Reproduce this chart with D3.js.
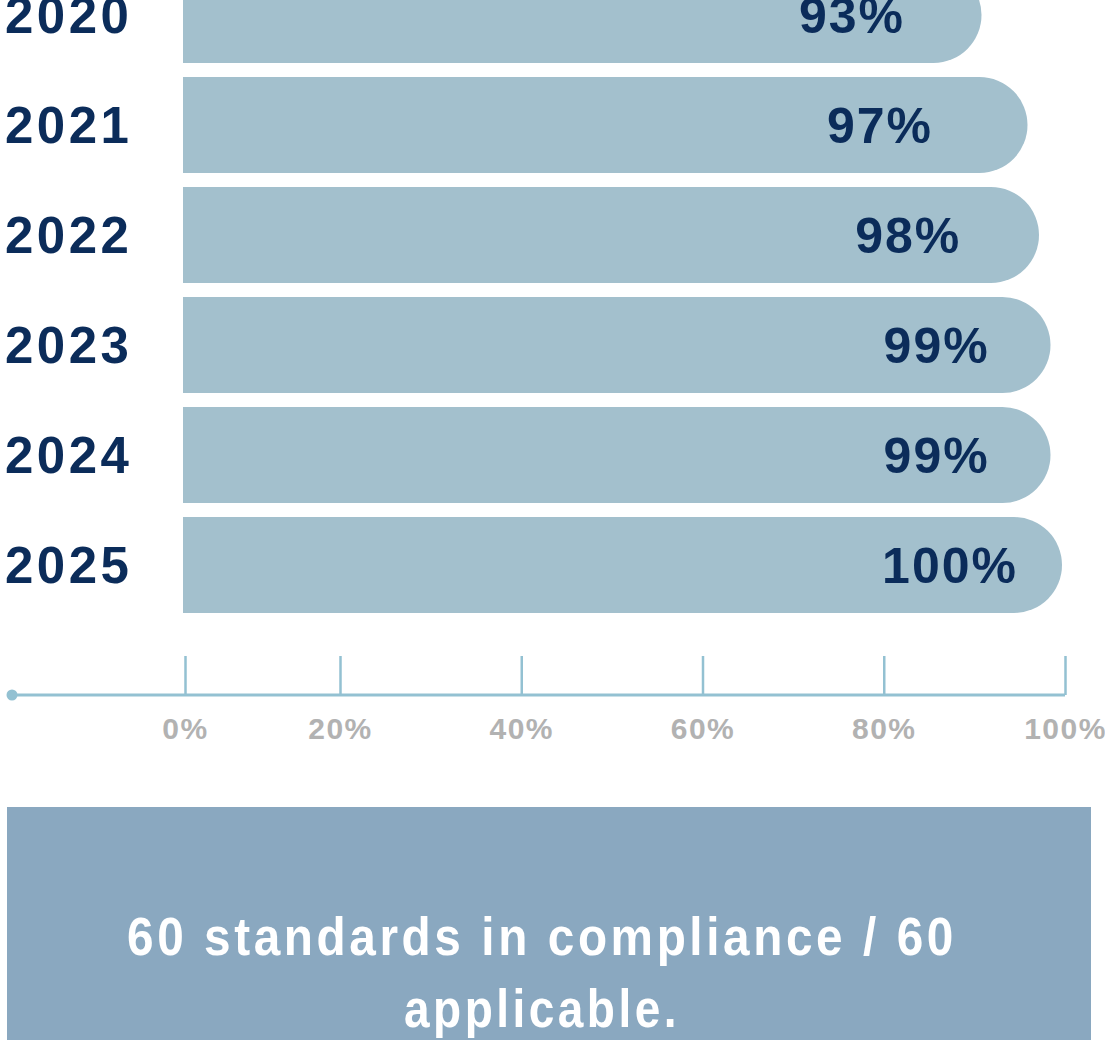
<!DOCTYPE html>
<html>
<head>
<meta charset="utf-8">
<script src="https://cdn.jsdelivr.net/npm/d3@7"></script>
<style>
  html, body { margin: 0; padding: 0; background: #ffffff; overflow: hidden; }
  svg { display: block; }
</style>
</head>
<body>
<svg id="chart" width="1105" height="1040"></svg>
<script>
// ---- data ----
const years = ["2020", "2021", "2022", "2023", "2024", "2025"];
const compliance = [93, 97, 98, 99, 99, 100];
const axisTicks = [0, 20, 40, 60, 80, 100];
const noteLines = ["60 standards in compliance / 60", "applicable."];

// ---- styles ----
const navy = "#0b2c5a";
const barFill = "#a3c0cd";
const axisColor = "#93c1d2";
const tickText = "#b2b2b2";
const boxFill = "#8aa8c0";
const wideFont = "'Liberation Sans', Arial, sans-serif";
const noteWidths = [830, 276];

const svg = d3.select("#chart");
const data = years.map((y, i) => ({ year: y, value: compliance[i] }));

// scales
const y = d3.scaleBand().domain(years).range([-33, 613]).paddingInner(14 / 110).paddingOuter(0);
const xBar = d3.scaleLinear().domain([90, 100]).range([947, 1062]);
const xLabel = d3.scaleLinear().domain([93, 97, 100]).range([905, 933, 1018]);
const xAxisScale = d3.scaleLinear().domain([0, 20, 100]).range([185, 340, 1065]);
const barStart = 183;

// bars with rounded right end
svg.append("g").selectAll("path").data(data).join("path")
  .attr("d", d => {
    const top = y(d.year), h = y.bandwidth(), r = h / 2, x1 = xBar(d.value);
    return `M${barStart},${top} H${x1 - r} A${r},${r} 0 0 1 ${x1 - r},${top + h} H${barStart} Z`;
  })
  .attr("fill", barFill);

// year labels
svg.append("g").selectAll("text").data(data).join("text")
  .attr("x", 5)
  .attr("y", d => y(d.year) + y.bandwidth() / 2)
  .attr("dy", "0.35em")
  .attr("font-family", wideFont)
  .attr("font-weight", "bold")
  .attr("font-size", 51)
  .attr("letter-spacing", "3.5px")
  .attr("fill", navy)
  .text(d => d.year);

// value labels
svg.append("g").selectAll("text").data(data).join("text")
  .attr("x", d => xLabel(d.value))
  .attr("y", d => y(d.year) + y.bandwidth() / 2)
  .attr("dy", "0.35em")
  .attr("text-anchor", "end")
  .attr("font-family", wideFont)
  .attr("font-weight", "bold")
  .attr("font-size", 50)
  .attr("letter-spacing", "2px")
  .attr("fill", navy)
  .text(d => d.value + "%");

// axis
const axisY = 695;
const axisG = svg.append("g").attr("transform", `translate(0,${axisY})`);
axisG.append("line")
  .attr("x1", 12).attr("x2", xAxisScale(100))
  .attr("y1", 0).attr("y2", 0)
  .attr("stroke", axisColor).attr("stroke-width", 3);
axisG.append("circle").attr("cx", 12).attr("cy", 0).attr("r", 5.5).attr("fill", axisColor);
const axis = d3.axisBottom(xAxisScale)
  .tickValues(axisTicks)
  .tickSizeInner(-39)
  .tickSizeOuter(0)
  .tickPadding(23)
  .tickFormat(d => d + "%");
const ag = axisG.append("g").call(axis);
ag.select(".domain").remove();
ag.selectAll(".tick line").attr("stroke", axisColor).attr("stroke-width", 2.5);
ag.selectAll(".tick text")
  .attr("fill", tickText)
  .attr("font-family", wideFont)
  .attr("font-weight", "bold")
  .attr("font-size", 30)
  .attr("letter-spacing", "1.5px");

// note box
svg.append("rect")
  .attr("x", 7).attr("y", 807).attr("width", 1084).attr("height", 240)
  .attr("fill", boxFill);
svg.append("g").selectAll("text").data(noteLines).join("text")
  .attr("x", 542)
  .attr("y", (d, i) => 955 + i * 72)
  .attr("text-anchor", "middle")
  .attr("font-family", wideFont)
  .attr("font-weight", "bold")
  .attr("font-size", 53)
  .attr("letter-spacing", "4px")
  .attr("textLength", (d, i) => noteWidths[i])
  .attr("lengthAdjust", "spacingAndGlyphs")
  .attr("fill", "#ffffff")
  .text(d => d);
</script>
</body>
</html>
